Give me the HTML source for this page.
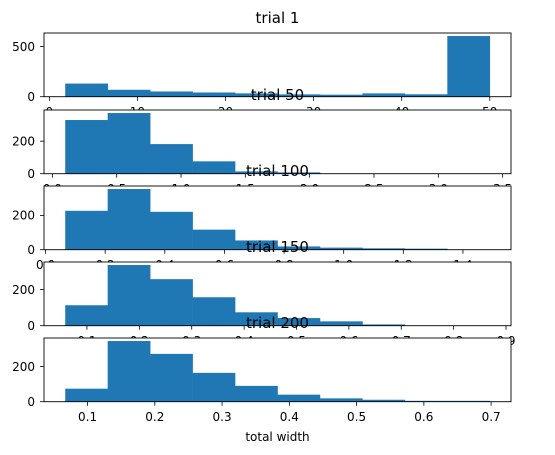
<!DOCTYPE html>
<html><head><meta charset="utf-8"><style>
body{margin:0;background:#fff}
svg{display:block;font-family:"DejaVu Sans","Liberation Sans",sans-serif}
</style></head><body>
<svg id="chart" width="555" height="455" viewBox="0 0 555 455" xmlns="http://www.w3.org/2000/svg"></svg>
<script>
const titles = ["trial 1","trial 50","trial 100","trial 150","trial 200"];
const binMins = [1.8, 0.10, 0.066, 0.0585, 0.0668];
const binMaxs = [50, 3.40, 1.49, 0.869, 0.698];
const counts1 = [131, 69, 52, 42, 33, 23, 20, 33, 24, 605];
const counts50 = [330, 373, 182, 76, 14, 8, 1, 0, 0, 1];
const counts100 = [227, 354, 221, 117, 54, 19, 12, 8, 6, 1];
const counts150 = [113, 335, 257, 157, 74, 42, 24, 7, 1, 1];
const counts200 = [74, 345, 272, 164, 90, 40, 19, 11, 5, 5];
const xTicks1 = [0,10,20,30,40,50];
const xTicks50 = [0.0,0.5,1.0,1.5,2.0,2.5,3.0,3.5];
const xTicks100 = [0.0,0.2,0.4,0.6,0.8,1.0,1.2,1.4];
const xTicks150 = [0.1,0.2,0.3,0.4,0.5,0.6,0.7,0.8,0.9];
const xTicks200 = [0.1,0.2,0.3,0.4,0.5,0.6,0.7];
const xTickDecimals = [0,1,1,1,1];
const yTicks1 = [0,500];
const yTicksOther = [0,200];

const allCounts=[counts1,counts50,counts100,counts150,counts200];
const allXTicks=[xTicks1,xTicks50,xTicks100,xTicks150,xTicks200];
const allYTicks=[yTicks1,yTicksOther,yTicksOther,yTicksOther,yTicksOther];
const svg=document.getElementById('chart');
const NS='http://www.w3.org/2000/svg';
function mk(tag,attrs,parent){const e=document.createElementNS(NS,tag);for(const k in attrs)e.setAttribute(k,attrs[k]);(parent||svg).appendChild(e);return e;}
const L=44,R=511,tops=[33,110,186,262,338],H=63.7;
for(let p=0;p<5;p++){
  const g=mk('g',{});
  
  
  const top=tops[p],bot=top+H;
  const c=allCounts[p],n=c.length;
  const mn=binMins[p],mx=binMaxs[p],pad=(mx-mn)*0.05;
  const x0=mn-pad,x1=mx+pad;
  const ymax=Math.max(...c)*1.05;
  const xs=v=>L+(v-x0)/(x1-x0)*(R-L);
  const ys=v=>bot-v/ymax*(bot-top);
  const bg=mk('rect',{x:L,y:top,width:R-L,height:H,fill:'#fff'},g);
  
  
  const w=(mx-mn)/n;
  for(let i=0;i<n;i++){
    const a=xs(mn+i*w),b=xs(mn+(i+1)*w);
    const r=mk('rect',{x:a,y:ys(c[i]),width:b-a+0.3,height:bot-ys(c[i]),fill:'#1f77b4'},g);
    
    
  }
  mk('rect',{x:L,y:top,width:R-L,height:H,fill:'none',stroke:'#000','stroke-width':0.9},g);
  allXTicks[p].forEach(t=>{
    const x=xs(t);
    mk('line',{x1:x,x2:x,y1:bot,y2:bot+4,stroke:'#000','stroke-width':0.8},g);
    const tx=mk('text',{x:x,y:bot+19.5,'font-size':12,'text-anchor':'middle',fill:'#000'},g);
    tx.textContent=t.toFixed(xTickDecimals[p]);
    
    
  });
  allYTicks[p].forEach(t=>{
    const y=ys(t);
    mk('line',{x1:L,x2:L-4,y1:y,y2:y,stroke:'#000','stroke-width':0.8},g);
    const tx=mk('text',{x:L-9,y:y+4.3,'font-size':12,'text-anchor':'end',fill:'#000'},g);
    tx.textContent=String(t);
    
    
  });
  const tt=mk('text',{x:277.5,y:top-10,'font-size':15,'text-anchor':'middle',fill:'#000'});
  tt.textContent=titles[p];
  
  
}
const xl=mk('text',{x:277.5,y:441,'font-size':12,'text-anchor':'middle',fill:'#000'});
xl.textContent='total width';


</script>
</body></html>
